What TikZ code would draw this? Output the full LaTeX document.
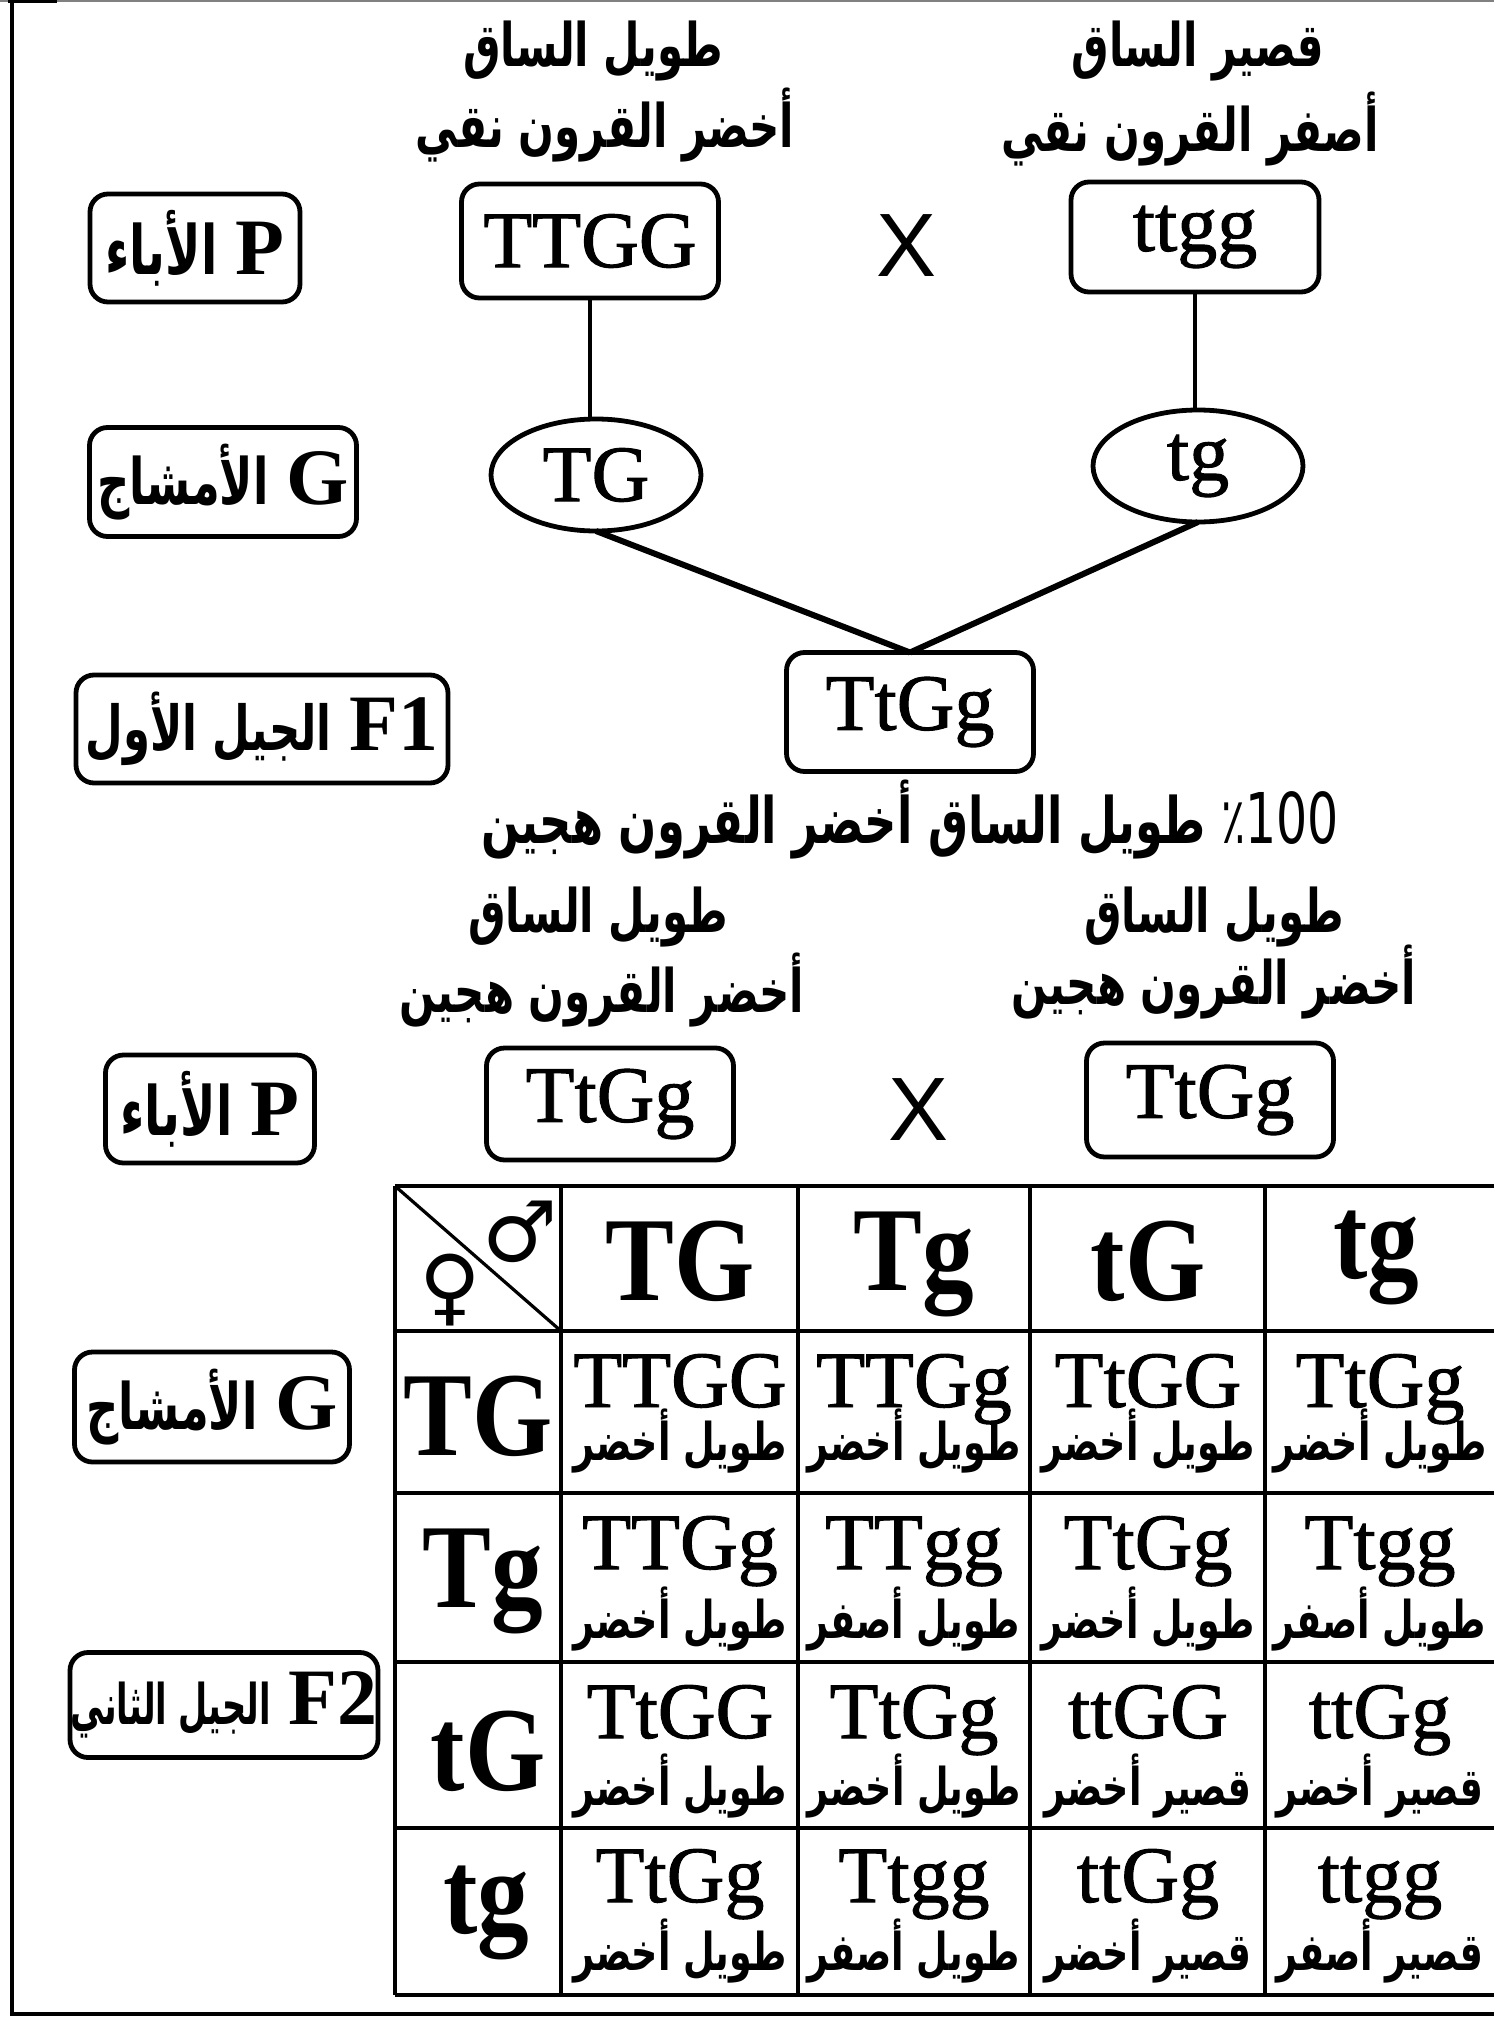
\documentclass[tikz,border=0pt]{standalone}
\usepackage{fontspec}
\usetikzlibrary{shapes.geometric}
\setmainfont{Liberation Serif}
\newfontfamily\arfont[Script=Arabic,FakeStretch=0.7]{DejaVu Sans}
\newfontfamily\arnarrow[Script=Arabic,FakeStretch=0.6]{DejaVu Sans}
\newfontfamily\hdrfont[FakeStretch=0.86]{Liberation Serif}
\newfontfamily\symfont{DejaVu Sans}
\newfontfamily\sansf{Liberation Sans}
\TeXXeTstate=1
\newcommand\fs[1]{\fontsize{#1pt}{#1pt}\selectfont}
\newcommand\AR[2]{{\fs{#1}\arfont\bfseries #2}}
\newcommand\heavy{\addfontfeature{FakeBold=1.2}}
\newcommand\gap{\hspace{9pt}}
\begin{document}
\begin{tikzpicture}[x=0.5pt,y=-0.5pt,
  every node/.style={inner sep=0pt, outer sep=0pt},
  lbl/.style={draw, line width=2.4pt, rounded corners=9pt},
  gbox/.style={draw, line width=2.4pt, rounded corners=9pt, font=\fs{40}\heavy},
  gam/.style={draw, ellipse, line width=2.4pt, font=\fs{40}\heavy, minimum width=105pt, minimum height=56pt},
  cross/.style={font=\sansf\fs{45}},
  hdr/.style={font=\hdrfont\bfseries\fs{60}, anchor=base},
  geno/.style={font=\fs{40}\heavy, anchor=base},
  phen/.style={anchor=base},
  lnk/.style={line width=2pt},
  diag/.style={line width=3pt},
  grid/.style={line width=1.6pt},
  hgrid/.style={line width=2.2pt}]
\useasboundingbox (0,0) rectangle (1494,2017);
% frame
\draw[gray, line width=1pt] (0,1) -- (1494,1);
\draw[line width=2pt] (8,1) -- (57,1);
\draw[line width=2.3pt] (12,0) -- (12,2014) -- (1494,2014);

% ---------- first cross ----------
\node (t1a) at (593,51) {\AR{30}{\beginR طويل الساق\endR}};
\node (t1b) at (605,125) {\AR{30}{\beginR أخضر القرون نقي\endR}};
\node (t2a) at (1198,51) {\AR{30}{\beginR قصير الساق\endR}};
\node (t2b) at (1190,129) {\AR{30}{\beginR أصفر القرون نقي\endR}};

\node[lbl, minimum width=105pt, minimum height=54pt] (pA) at (195,248)
  {\AR{34}{\beginR الأباء\endR}\gap{\fs{40}\bfseries P}};
\node[gbox, minimum width=128.5pt, minimum height=57pt] (TTGG) at (590,241) {TTGG};
\node[cross] (x1) at (907,246) {X};
\node[gbox, minimum width=124pt, minimum height=55pt] (ttgg) at (1195,237) {ttgg};

\node[lbl, minimum width=133.5pt, minimum height=54.5pt] (gA) at (223,482)
  {\AR{32}{\beginR الأمشاج\endR}\gap{\fs{40}\bfseries G}};
\node[gam] (TG) at (596,475) {TG};
\node[gam] (tg) at (1198,466) {tg};

\node[lbl, minimum width=186pt, minimum height=54pt] (fA) at (262,729)
  {\AR{31}{\beginR الجيل الأول\endR}\gap{\fs{40}\bfseries F1}};
\node[gbox, minimum width=123.5pt, minimum height=59.5pt] (F1g) at (910,712) {TtGg};

\draw[lnk] (TTGG.south) -- (TTGG.south |- TG.north);
\draw[lnk] (ttgg.south) -- (ttgg.south |- tg.north);
\draw[diag] (TG.south) -- (F1g.north);
\draw[diag] (tg.south) -- (F1g.north);

\node (pct) at (910,820) {\AR{32}{\beginR\beginL\hbox{\mdseries ٪}\hbox{\mdseries\fs{35}100}\endL{} طويل الساق أخضر القرون هجين\endR}};

% ---------- second cross ----------
\node (s1a) at (598,917) {\AR{30}{\beginR طويل الساق\endR}};
\node (s1b) at (602,990) {\AR{30}{\beginR أخضر القرون هجين\endR}};
\node (s2a) at (1214,917) {\AR{30}{\beginR طويل الساق\endR}};
\node (s2b) at (1214,982) {\AR{30}{\beginR أخضر القرون هجين\endR}};

\node[lbl, minimum width=104.5pt, minimum height=54pt] (pB) at (210,1109)
  {\AR{34}{\beginR الأباء\endR}\gap{\fs{40}\bfseries P}};
\node[gbox, minimum width=123.5pt, minimum height=56pt] (TtGgL) at (610,1104) {TtGg};
\node[cross] (x2) at (919,1110) {X};
\node[gbox, minimum width=123.5pt, minimum height=57pt] (TtGgR) at (1210,1100) {TtGg};

\node[lbl, minimum width=137.5pt, minimum height=55pt] (gB) at (212,1407)
  {\AR{32}{\beginR الأمشاج\endR}\gap{\fs{40}\bfseries G}};
\node[lbl, minimum width=154pt, minimum height=52.5pt] (fB) at (224,1705)
  {{\fs{28}\arnarrow\bfseries\beginR الجيل الثاني\endR}\gap{\fs{40}\bfseries F2}};

% ---------- Punnett square ----------
\foreach \yy in {1331,1493,1662,1828,1995} \draw[hgrid] (395,\yy) -- (1494,\yy);
\draw[hgrid] (395,1186) -- (1494,1186);
\foreach \xx in {395,561,798,1030,1265} \draw[grid] (\xx,1186) -- (\xx,1995);
\draw[grid] (395,1186) -- (561,1331);
\node[font=\symfont\fs{42}] (male) at (520,1232) {♂};
\node[font=\symfont\fs{42}] (female) at (450,1290) {♀};

% column headers
\node[hdr] (cTG) at (680,1300) {TG};
\node[hdr] (cTg) at (914,1290) {Tg};
\node[hdr] (ctG) at (1148,1300) {tG};
\node[hdr] (ctg) at (1376,1278) {tg};
% row headers
\node[hdr] (rTG) at (478,1455) {TG};
\node[hdr] (rTg) at (483,1607) {Tg};
\node[hdr] (rtG) at (488,1790) {tG};
\node[hdr] (rtg) at (486,1933) {tg};

% row TG
\node[geno] (a11) at (680,1407) {TTGG};
\node[geno] (a12) at (914,1407) {TTGg};
\node[geno] (a13) at (1148,1407) {TtGG};
\node[geno] (a14) at (1380,1407) {TtGg};
\node[phen] (b11) at (680,1460) {\AR{26}{\beginR طويل أخضر\endR}};
\node[phen] (b12) at (914,1460) {\AR{26}{\beginR طويل أخضر\endR}};
\node[phen] (b13) at (1148,1460) {\AR{26}{\beginR طويل أخضر\endR}};
\node[phen] (b14) at (1380,1460) {\AR{26}{\beginR طويل أخضر\endR}};
% row Tg
\node[geno] (a21) at (680,1569) {TTGg};
\node[geno] (a22) at (914,1569) {TTgg};
\node[geno] (a23) at (1148,1569) {TtGg};
\node[geno] (a24) at (1380,1569) {Ttgg};
\node[phen] (b21) at (680,1638) {\AR{26}{\beginR طويل أخضر\endR}};
\node[phen] (b22) at (914,1638) {\AR{26}{\beginR طويل أصفر\endR}};
\node[phen] (b23) at (1148,1638) {\AR{26}{\beginR طويل أخضر\endR}};
\node[phen] (b24) at (1380,1638) {\AR{26}{\beginR طويل أصفر\endR}};
% row tG
\node[geno] (a31) at (680,1738) {TtGG};
\node[geno] (a32) at (914,1738) {TtGg};
\node[geno] (a33) at (1148,1738) {ttGG};
\node[geno] (a34) at (1380,1738) {ttGg};
\node[phen] (b31) at (680,1805) {\AR{26}{\beginR طويل أخضر\endR}};
\node[phen] (b32) at (914,1805) {\AR{26}{\beginR طويل أخضر\endR}};
\node[phen] (b33) at (1148,1805) {\AR{26}{\beginR قصير أخضر\endR}};
\node[phen] (b34) at (1380,1805) {\AR{26}{\beginR قصير أخضر\endR}};
% row tg
\node[geno] (a41) at (680,1902) {TtGg};
\node[geno] (a42) at (914,1902) {Ttgg};
\node[geno] (a43) at (1148,1902) {ttGg};
\node[geno] (a44) at (1380,1902) {ttgg};
\node[phen] (b41) at (680,1970) {\AR{26}{\beginR طويل أخضر\endR}};
\node[phen] (b42) at (914,1970) {\AR{26}{\beginR طويل أصفر\endR}};
\node[phen] (b43) at (1148,1970) {\AR{26}{\beginR قصير أخضر\endR}};
\node[phen] (b44) at (1380,1970) {\AR{26}{\beginR قصير أصفر\endR}};
\end{tikzpicture}
\end{document}
